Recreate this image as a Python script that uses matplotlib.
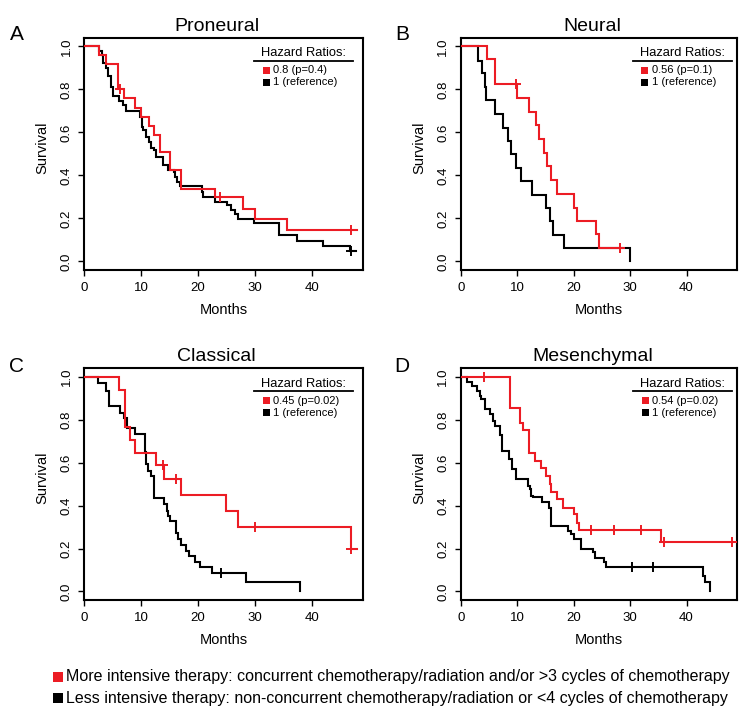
import numpy as np
import matplotlib
matplotlib.use("Agg")
import matplotlib.pyplot as plt
from matplotlib.patches import Rectangle
from matplotlib.lines import Line2D

plt.rcParams['font.family'] = ['Liberation Sans', 'DejaVu Sans']

# ---------------- data (months, survival) ----------------
titles = ["Proneural", "Neural", "Classical", "Mesenchymal"]
letters = ["A", "B", "C", "D"]
hazard_labels = ["0.8 (p=0.4)", "0.56 (p=0.1)", "0.45 (p=0.02)", "0.54 (p=0.02)"]
reference_label = "1 (reference)"

# Proneural
pn_red_t = [0, 2.6, 3.9, 6.0, 6.9, 8.9, 10.0, 11.3, 12.3, 13.3, 15.0, 17.0, 23.0, 28.0, 30.0, 35.7, 48.0]
pn_red_s = [1.0, 0.96, 0.92, 0.80, 0.76, 0.715, 0.673, 0.63, 0.587, 0.509, 0.424, 0.338, 0.299, 0.245, 0.195, 0.147, 0.147]
pn_red_c = [6.3, 23.9, 46.9]
pn_blk_t = [0, 2.6, 3.06, 3.35, 3.82, 4.23, 4.70, 4.99, 6.17, 6.87, 7.28, 9.81, 10.1, 10.4, 10.8, 11.3, 11.7, 12.3, 12.6, 13.8,
            14.8, 15.7, 16.0, 16.4, 16.8, 20.7, 20.96, 23.0, 25.1, 25.9, 26.5, 27.1, 29.8, 34.2, 37.4, 42.1, 46.8, 47.8]
pn_blk_s = [1.0, 0.98, 0.961, 0.922, 0.899, 0.86, 0.813, 0.767, 0.748, 0.727, 0.699, 0.673, 0.626, 0.611, 0.58, 0.556, 0.525, 0.517, 0.486, 0.447,
            0.424, 0.416, 0.393, 0.369, 0.349, 0.323, 0.299, 0.276, 0.26, 0.237, 0.221, 0.198, 0.178, 0.125, 0.097, 0.073, 0.05, 0.05]
pn_blk_c = [47.0]

# Neural
nr_red_t = [0, 4.65, 6.0, 10.0, 12.0, 13.35, 13.8, 14.8, 15.3, 16.0, 17.0, 20.0, 20.5, 23.9, 24.5, 28.6]
nr_red_s = [1.0, 0.941, 0.824, 0.759, 0.695, 0.633, 0.568, 0.505, 0.443, 0.378, 0.314, 0.249, 0.187, 0.129, 0.062, 0.062]
nr_red_c = [9.8, 28.2]
nr_blk_t = [0, 3.06, 3.65, 4.2, 4.5, 6.0, 7.5, 8.35, 8.8, 9.8, 10.7, 12.6, 15.1, 15.7, 16.4, 18.2, 30.0]
nr_blk_s = [1.0, 0.933, 0.874, 0.813, 0.751, 0.684, 0.622, 0.560, 0.498, 0.435, 0.373, 0.311, 0.249, 0.187, 0.124, 0.062, 0.0]
nr_blk_c = []

# Classical
cl_red_t = [0, 6.1, 7.1, 8.0, 8.9, 12.55, 14.0, 16.95, 25.0, 27.0, 47.0, 48.0]
cl_red_s = [1.0, 0.941, 0.765, 0.706, 0.647, 0.588, 0.523, 0.448, 0.373, 0.299, 0.199, 0.199]
cl_red_c = [13.9, 16.1, 30.0, 47.0]
cl_blk_t = [0, 2.4, 3.9, 4.4, 6.2, 7.0, 7.6, 8.9, 10.6, 10.75, 10.9, 11.2, 11.8, 12.2, 14.1, 14.5, 14.7, 15.0, 16.2, 16.5,
            17.1, 17.9, 18.5, 19.4, 20.3, 22.5, 28.5, 38.0]
cl_blk_s = [1.0, 0.972, 0.933, 0.864, 0.833, 0.809, 0.763, 0.732, 0.70, 0.65, 0.592, 0.561, 0.538, 0.434, 0.406, 0.375, 0.352, 0.329, 0.274, 0.243,
            0.216, 0.189, 0.166, 0.135, 0.112, 0.085, 0.042, 0.0]
cl_blk_c = [24.1]

# Mesenchymal
ms_red_t = [0, 8.76, 10.5, 11.0, 12.0, 13.06, 14.2, 15.1, 15.7, 16.0, 17.06, 18.06, 20.0, 20.6, 21.0, 35.4, 48.5]
ms_red_s = [1.0, 0.857, 0.787, 0.753, 0.644, 0.609, 0.575, 0.539, 0.503, 0.464, 0.430, 0.391, 0.360, 0.317, 0.286, 0.231, 0.231]
ms_red_c = [4.1, 23.06, 27.06, 31.9, 36.0, 48.06]
ms_blk_t = [0, 1.0, 1.9, 2.8, 3.35, 3.6, 4.2, 5.1, 5.7, 6.1, 6.9, 7.2, 8.6, 9.06, 9.8, 11.9, 12.2, 12.5, 12.8, 14.3,
            15.6, 16.0, 18.9, 19.5, 20.1, 21.3, 23.4, 23.8, 25.4, 25.7, 42.9, 43.2, 44.2]
ms_blk_s = [1.0, 0.974, 0.958, 0.935, 0.911, 0.896, 0.849, 0.826, 0.795, 0.772, 0.728, 0.655, 0.617, 0.570, 0.523, 0.492, 0.477, 0.446, 0.438, 0.415,
            0.391, 0.306, 0.283, 0.267, 0.244, 0.197, 0.182, 0.154, 0.135, 0.112, 0.073, 0.042, 0.0]
ms_blk_c = [30.3, 34.1]

x_ticks = [0, 10, 20, 30, 40]
y_ticks = [0.0, 0.2, 0.4, 0.6, 0.8, 1.0]
legend_more = "More intensive therapy: concurrent chemotherapy/radiation and/or >3 cycles of chemotherapy"
legend_less = "Less intensive therapy: non-concurrent chemotherapy/radiation or <4 cycles of chemotherapy"

panels = [
    (pn_red_t, pn_red_s, pn_red_c, pn_blk_t, pn_blk_s, pn_blk_c),
    (nr_red_t, nr_red_s, nr_red_c, nr_blk_t, nr_blk_s, nr_blk_c),
    (cl_red_t, cl_red_s, cl_red_c, cl_blk_t, cl_blk_s, cl_blk_c),
    (ms_red_t, ms_red_s, ms_red_c, ms_blk_t, ms_blk_s, ms_blk_c),
]

# ---------------- layout (pixels) ----------------
W, H = 750, 710
RED = '#EC1C24'
BLK = '#000000'
boxes = [(84.3, 37.7, 362.7, 270.0), (461.0, 37.7, 737.3, 270.0),
         (84.3, 368.3, 362.7, 600.0), (461.0, 368.3, 737.3, 600.0)]
leg_inset = [9.4, 5.6, 9.4, 5.0]
letter_pos = [(17, 35), (402, 35), (17, 366), (402, 366)]

fig = plt.figure(figsize=(W / 100, H / 100), dpi=100)


def fx(x):
    return x / W


def fy(y):
    return 1 - y / H


def draw_curve(ax, t, s, cens, color):
    t = np.asarray(t, float)
    s = np.asarray(s, float)
    ax.step(t, s, where='post', color=color, lw=1.5, solid_joinstyle='miter', zorder=3)
    if len(cens):
        c = np.asarray(cens, float)
        idx = np.searchsorted(t, c, side='right') - 1
        ax.plot(c, s[idx], ls='none', marker='+', ms=7, mew=1.4, color=color, zorder=4)


for i, (l, t, r, b) in enumerate(boxes):
    ax = fig.add_axes([fx(l), fy(b), fx(r - l), (b - t) / H])
    rt, rs, rc, bt, bs, bc = panels[i]
    draw_curve(ax, bt, bs, bc, BLK)
    draw_curve(ax, rt, rs, rc, RED)
    ax.set_xlim(0, 49)
    ax.set_ylim(-0.04, 1.04)
    ax.set_xticks(x_ticks)
    ax.set_yticks(y_ticks)
    ax.set_yticklabels([f"{v:.1f}" for v in y_ticks])
    ax.tick_params(axis='both', direction='out', length=4.5, width=1.0, labelsize=9.5, color='black')
    ax.tick_params(axis='x', pad=4.0)
    ax.tick_params(axis='y', pad=4.0)
    for lab in ax.get_yticklabels():
        lab.set_rotation(90)
        lab.set_va('center')
        lab.set_ha('right')
    for sp in ax.spines.values():
        sp.set_linewidth(1.5)
    # title, axis labels
    fig.text(fx((l + r) / 2 - 6.7), fy(t - 7), titles[i], ha='center', va='baseline', fontsize=14)
    fig.text(fx((l + r) / 2), fy(b + 40), "Months", ha='center', va='center', fontsize=10.5)
    fig.text(fx(l - 42), fy((t + b) / 2 - 6), "Survival", ha='center', va='center', rotation=90, fontsize=10.5)
    fig.text(fx(letter_pos[i][0]), fy(letter_pos[i][1]), letters[i], ha='center', va='center', fontsize=15)
    # legend
    ul_r = r - leg_inset[i]
    ul_l = ul_r - 99
    fig.text(fx((ul_l + ul_r) / 2), fy(t + 15.6), "Hazard Ratios:", ha='center', va='center', fontsize=9.3)
    fig.add_artist(Line2D([fx(ul_l), fx(ul_r)], [fy(t + 23), fy(t + 23)], color='black', lw=1.3,
                          transform=fig.transFigure))
    for k, (col, txt) in enumerate([(RED, hazard_labels[i]), (BLK, reference_label)]):
        yc = t + 32.3 + k * 12.3
        fig.add_artist(Rectangle((fx(ul_l + 8.5), fy(yc + 3.5)), 7 / W, 7 / H, facecolor=col,
                                 edgecolor='none', transform=fig.transFigure))
        fig.text(fx(ul_l + 19), fy(yc), txt, ha='left', va='center', fontsize=8)

# bottom legend
for k, (col, txt) in enumerate([(RED, legend_more), (BLK, legend_less)]):
    yc = 677 + k * 21
    fig.add_artist(Rectangle((fx(53), fy(yc + 5)), 10 / W, 10 / H, facecolor=col, edgecolor='none',
                             transform=fig.transFigure))
    fig.text(fx(66), fy(yc), txt, ha='left', va='center', fontsize=11.5)

fig.savefig("out.png", dpi=100)
